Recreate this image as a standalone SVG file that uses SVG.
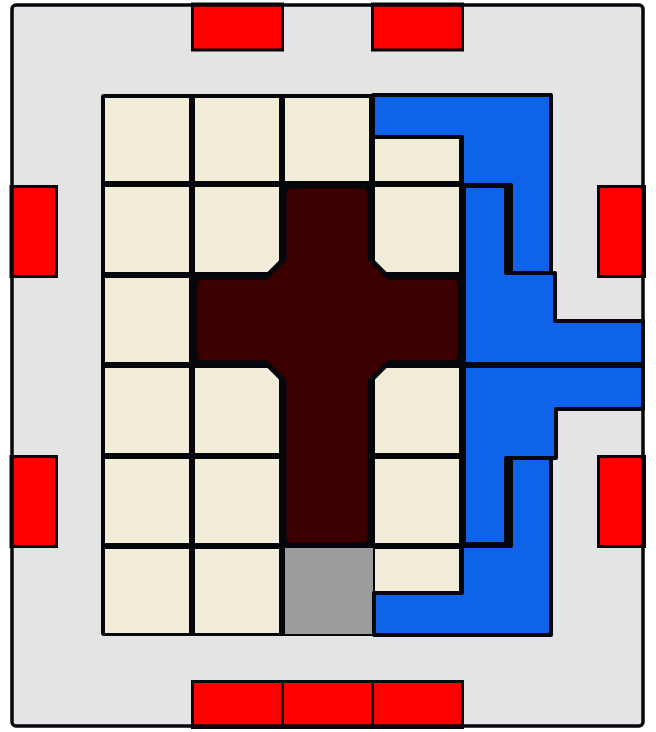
<svg xmlns="http://www.w3.org/2000/svg" width="656" height="732" viewBox="0 0 656 732">
<style>
.bg{fill:#e4e4e4}
.frame{fill:none;stroke:#05070d;stroke-width:3.5}
.red{fill:#ff0000;stroke:#05070d;stroke-width:3}
.cell{fill:#f2edd8}
.gray{fill:#9c9c9c}
.blue{fill:#0e63e8;stroke:#05070d;stroke-width:4;stroke-linejoin:round}
.cross{fill:#3c0000;stroke:#05070d;stroke-width:5;stroke-linejoin:round}
</style>
<rect class="bg" x="12" y="5" width="631" height="721" rx="4"/>
<g id="red-blocks">
<rect id="red-top-1" class="red" x="192.5" y="4" width="90" height="46"/>
<rect id="red-top-2" class="red" x="372.5" y="4" width="90" height="46"/>
<rect id="red-left-1" class="red" x="11" y="186.5" width="45.5" height="90"/>
<rect id="red-left-2" class="red" x="11" y="456.5" width="45.5" height="90"/>
<rect id="red-right-1" class="red" x="598.5" y="186.5" width="46" height="90"/>
<rect id="red-right-2" class="red" x="598.5" y="456.5" width="46" height="90"/>
<rect id="red-bottom-1" class="red" x="192.5" y="681.5" width="90" height="46"/>
<rect id="red-bottom-2" class="red" x="282.5" y="681.5" width="90" height="46"/>
<rect id="red-bottom-3" class="red" x="372.5" y="681.5" width="90" height="46"/>
</g>
<g id="grid">
<rect x="101" y="94" width="452" height="542" rx="3" fill="#05070d"/>
<rect class="cell" x="105" y="98" width="84" height="83"/>
<rect class="cell" x="195" y="98" width="84" height="83"/>
<rect class="cell" x="285" y="98" width="84" height="83"/>
<rect class="cell" x="375" y="98" width="84" height="83"/>
<rect class="cell" x="105" y="187" width="84" height="85"/>
<rect class="cell" x="195" y="187" width="84" height="85"/>
<rect class="cell" x="375" y="187" width="84" height="85"/>
<rect class="cell" x="105" y="278" width="84" height="84"/>
<rect class="cell" x="105" y="368" width="84" height="85"/>
<rect class="cell" x="195" y="368" width="84" height="85"/>
<rect class="cell" x="375" y="368" width="84" height="85"/>
<rect class="cell" x="105" y="459" width="84" height="84"/>
<rect class="cell" x="195" y="459" width="84" height="84"/>
<rect class="cell" x="375" y="459" width="84" height="84"/>
<rect class="cell" x="105" y="549" width="84" height="84"/>
<rect class="cell" x="195" y="549" width="84" height="84"/>
<rect class="cell" x="375" y="549" width="84" height="84"/>
<rect id="gray-cell" class="gray" x="285" y="548" width="88" height="86"/>
</g>
<g id="blue-pieces">
<path id="blue-top" class="blue" d="M373,95 H551 V273 H511 V185 H462 V137 H373 Z"/>
<path id="blue-mid-upper" class="blue" d="M464,186 H506 V273 H555 V321 H643 V364 H464 Z"/>
<path id="blue-mid-lower" class="blue" d="M464,366 H643 V409 H556 V458 H506 V544 H464 Z"/>
<path id="blue-bottom" class="blue" d="M511,458 H551 V635 H374 V593 H462 V546 H511 Z"/>
</g>
<g id="cross">
<path class="cross" d="M293,186 H362 Q370,186 370,194 V259 L388,277 H452 Q460,277 460,285 V355 Q460,363 452,363 H388 L370,381 V537 Q370,545 362,545 H292 Q284,545 284,537 V381 L266,363 H203 Q195,363 195,355 V285 Q195,277 203,277 H266 L284,259 V194 Q284,186 293,186 Z"/>
</g>
<rect class="frame" x="12" y="5" width="631" height="721" rx="4"/>
</svg>
